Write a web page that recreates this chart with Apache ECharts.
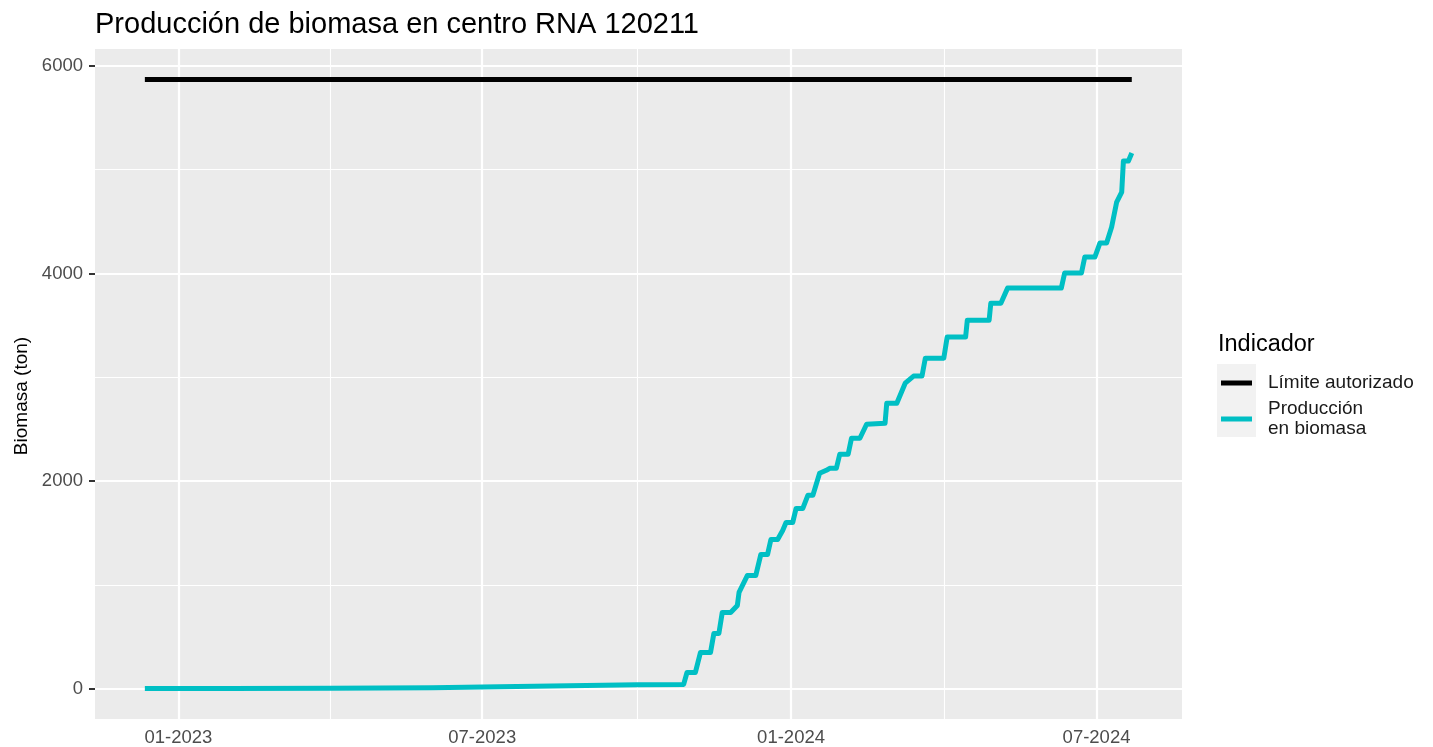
<!DOCTYPE html>
<html>
<head>
<meta charset="utf-8">
<script src="https://cdn.jsdelivr.net/npm/echarts@6/dist/echarts.min.js"></script>
<style>
  html, body { margin: 0; padding: 0; background: #fff; }
  #chart { width: 1433px; height: 747px; }
</style>
</head>
<body>
<div id="chart"></div>
<script>
// Producción acumulada (ton) por fecha
const fechasProduccion = [
  "2022-12-12", "2023-02-01", "2023-04-01", "2023-06-01", "2023-07-01",
  "2023-08-01", "2023-09-01", "2023-10-01", "2023-10-29", "2023-10-31",
  "2023-11-05", "2023-11-08", "2023-11-14", "2023-11-16", "2023-11-19",
  "2023-11-21", "2023-11-26", "2023-11-30", "2023-12-01", "2023-12-06",
  "2023-12-11", "2023-12-14", "2023-12-18", "2023-12-20", "2023-12-24",
  "2023-12-27", "2023-12-29", "2024-01-02", "2024-01-04", "2024-01-08",
  "2024-01-11", "2024-01-14", "2024-01-18", "2024-01-22", "2024-01-24",
  "2024-01-28", "2024-01-30", "2024-02-04", "2024-02-06", "2024-02-11",
  "2024-02-15", "2024-02-26", "2024-02-27", "2024-03-04", "2024-03-09",
  "2024-03-14", "2024-03-19", "2024-03-21", "2024-04-01", "2024-04-03",
  "2024-04-14", "2024-04-15", "2024-04-28", "2024-04-29", "2024-05-05",
  "2024-05-09", "2024-06-10", "2024-06-12", "2024-06-22", "2024-06-24",
  "2024-06-30", "2024-07-03", "2024-07-07", "2024-07-10", "2024-07-13",
  "2024-07-16", "2024-07-17", "2024-07-20", "2024-07-22"
];
const produccion = [
  0, 1, 3, 8, 14,
  22, 30, 36, 40, 155,
  155, 347, 347, 531, 531,
  733, 733, 801, 926, 1090,
  1090, 1293, 1293, 1437, 1437,
  1524, 1601, 1601, 1736, 1736,
  1862, 1862, 2074, 2103, 2123,
  2123, 2258, 2258, 2412, 2412,
  2547, 2557, 2750, 2750, 2943,
  3011, 3011, 3184, 3184, 3387,
  3387, 3550, 3550, 3714, 3714,
  3859, 3859, 4004, 4004, 4158,
  4158, 4293, 4293, 4447, 4688,
  4785, 5084, 5084, 5161
];

// Límite autorizado
const fechasLimite = ["2022-12-12", "2024-07-22"];
const limite = [5870, 5870];

// Ejes
const xTicks = ["2023-01-01", "2023-07-01", "2024-01-01", "2024-07-01"];
const xMinor = ["2023-04-01 12:00", "2023-10-01 12:00", "2024-04-01"];
const yTicks = [0, 2000, 4000, 6000];
const yMinor = [1000, 3000, 5000];

const FONT = "Liberation Sans, Arial, Helvetica, sans-serif";
const t = (s) => echarts.time.parse(s).getTime();

// lineas de grilla estilo ggplot (mayores gruesas, menores finas)
const gridLines = [].concat(
  yTicks.map((v) => ({ yAxis: v, lineStyle: { width: 2.2 } })),
  yMinor.map((v) => ({ yAxis: v, lineStyle: { width: 1.1 } })),
  xTicks.map((d) => ({ xAxis: t(d), lineStyle: { width: 2.2 } })),
  xMinor.map((d) => ({ xAxis: t(d), lineStyle: { width: 1.1 } }))
);

const option = {
  animation: false,
  title: [
    {
      text: "Producción de biomasa en centro RNA 120211",
      left: 90,
      top: 5,
      textStyle: { fontFamily: FONT, fontSize: 29, fontWeight: "normal", color: "#000" },
    },
    {
      text: "Indicador",
      left: 1213,
      top: 328,
      textStyle: { fontFamily: FONT, fontSize: 23.5, fontWeight: "normal", color: "#000" },
    },
  ],
  legend: {
    orient: "vertical",
    left: 1221,
    top: 373,
    padding: 0,
    itemWidth: 31,
    itemHeight: 5,
    itemGap: 6,
    icon: "rect",
    selectedMode: false,
    data: ["Límite autorizado", "Producción en biomasa"],
    formatter: (name) => (name === "Producción en biomasa" ? "Producción\nen biomasa" : name),
    textStyle: {
      fontFamily: FONT,
      fontSize: 19,
      lineHeight: 20,
      color: "#1a1a1a",
      padding: [0, 0, 0, 11],
    },
  },
  graphic: [
    {
      type: "rect",
      left: 1217,
      top: 364,
      shape: { width: 39, height: 73 },
      style: { fill: "#f2f2f2" },
      z: -1,
    },
  ],
  grid: {
    left: 95,
    right: 251,
    top: 49,
    bottom: 28,
    show: true,
    backgroundColor: "#ebebeb",
    borderWidth: 0,
  },
  xAxis: {
    type: "value",
    min: t("2022-11-12 07:00"),
    max: t("2024-08-20 22:00"),
    axisLine: { show: false },
    axisTick: {
      show: true,
      length: 6,
      customValues: xTicks.map(t),
      lineStyle: { color: "#333", width: 2 },
    },
    axisLabel: {
      customValues: xTicks.map(t),
      margin: 9,
      fontFamily: FONT,
      fontSize: 18.5,
      color: "#4d4d4d",
      formatter: (v) => echarts.time.format(v, "{MM}-{yyyy}", false),
    },
    splitLine: { show: false },
  },
  yAxis: {
    type: "value",
    min: -293.5,
    max: 6163.5,
    name: "Biomasa (ton)",
    nameLocation: "middle",
    nameGap: 62,
    nameTextStyle: { fontFamily: FONT, fontSize: 19, color: "#000", padding: [0, 24, 0, 0] },
    axisLine: { show: false },
    axisTick: {
      show: true,
      length: 6,
      customValues: yTicks,
      lineStyle: { color: "#333", width: 2 },
    },
    axisLabel: {
      customValues: yTicks,
      margin: 12,
      fontFamily: FONT,
      fontSize: 18.5,
      color: "#4d4d4d",
      formatter: (v) => String(v),
    },
    splitLine: { show: false },
  },
  series: [
    {
      name: "grilla",
      type: "line",
      data: [],
      z: 1,
      silent: true,
      markLine: {
        silent: true,
        symbol: "none",
        z: 1,
        label: { show: false },
        lineStyle: { color: "#ffffff", type: "solid" },
        emphasis: { disabled: true },
        data: gridLines,
      },
    },
    {
      name: "Límite autorizado",
      type: "line",
      z: 3,
      data: fechasLimite.map((d, i) => [t(d), limite[i]]),
      showSymbol: false,
      itemStyle: { color: "#000000" },
      lineStyle: { color: "#000000", width: 5, cap: "butt" },
    },
    {
      name: "Producción en biomasa",
      type: "line",
      z: 3,
      data: fechasProduccion.map((d, i) => [t(d), produccion[i]]),
      showSymbol: false,
      itemStyle: { color: "#00bfc4" },
      lineStyle: { color: "#00bfc4", width: 5, cap: "butt", join: "round" },
    },
  ],
};

const chart = echarts.init(document.getElementById("chart"));
chart.setOption(option);
</script>
</body>
</html>
